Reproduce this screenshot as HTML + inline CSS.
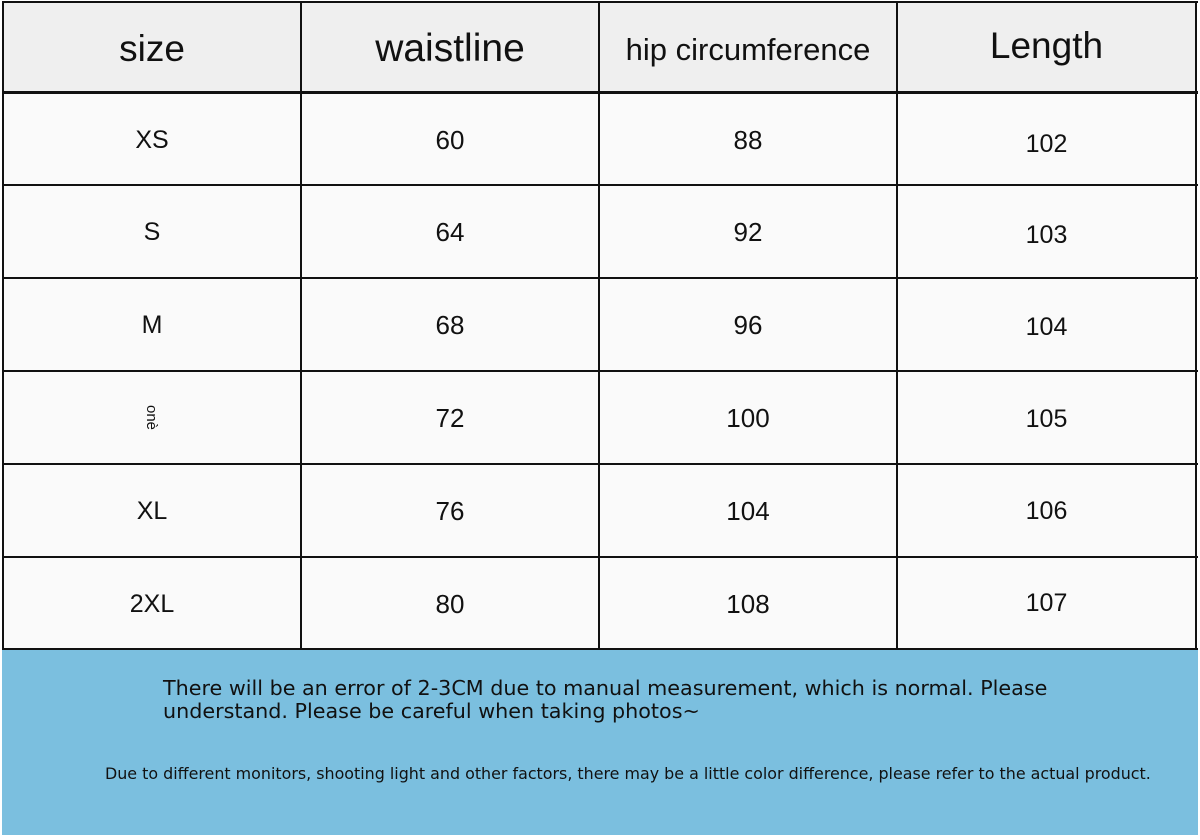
<!DOCTYPE html>
<html><head><style>
body{margin:0;width:1200px;height:840px;background:#fff;position:relative;overflow:hidden;font-family:"Liberation Sans","DejaVu Sans",sans-serif}
.c{position:absolute;display:flex;align-items:center;justify-content:center;color:#111;box-sizing:border-box}
.h{background:#efefef}
.b{background:#fafafa;font-size:26px}
.vl{position:absolute;background:#111;width:2px}
.hl{position:absolute;background:#111;height:2px;left:2px;width:1196px}
</style></head><body>
<div class="c h" style="left:3px;top:2px;width:1194px;height:90px"></div>
<div class="c" style="left:3px;top:4px;width:298px;height:90px;font-size:37px">size</div>
<div class="c" style="left:301px;top:4px;width:298px;height:90px;font-size:39px">waistline</div>
<div class="c" style="left:599px;top:2px;width:298px;height:96px;font-size:31px">hip circumference</div>
<div class="c" style="left:897px;top:0px;width:299px;height:92px;font-size:37px">Length</div>
<div class="c b" style="left:3px;top:93px;width:1194px;height:556px"></div>

<div class="c" style="left:3px;top:94px;width:298px;height:92px;font-size:25px">XS</div>
<div class="c" style="left:3px;top:186px;width:298px;height:93px;font-size:25px">S</div>
<div class="c" style="left:3px;top:279px;width:298px;height:93px;font-size:25px">M</div>
<div class="c" style="left:3px;top:371px;width:298px;height:93px;font-size:15px"><span style="transform:rotate(90deg);display:inline-block">onè</span></div>
<div class="c" style="left:3px;top:465px;width:298px;height:93px;font-size:25px">XL</div>
<div class="c" style="left:3px;top:558px;width:298px;height:92px;font-size:25px">2XL</div>

<div class="c" style="left:301px;top:94px;width:298px;height:92px;font-size:26px">60</div>
<div class="c" style="left:301px;top:186px;width:298px;height:93px;font-size:26px">64</div>
<div class="c" style="left:301px;top:279px;width:298px;height:93px;font-size:26px">68</div>
<div class="c" style="left:301px;top:372px;width:298px;height:93px;font-size:26px">72</div>
<div class="c" style="left:301px;top:465px;width:298px;height:93px;font-size:26px">76</div>
<div class="c" style="left:301px;top:558px;width:298px;height:92px;font-size:26px">80</div>

<div class="c" style="left:599px;top:94px;width:298px;height:92px;font-size:26px">88</div>
<div class="c" style="left:599px;top:186px;width:298px;height:93px;font-size:26px">92</div>
<div class="c" style="left:599px;top:279px;width:298px;height:93px;font-size:26px">96</div>
<div class="c" style="left:599px;top:372px;width:298px;height:93px;font-size:26px">100</div>
<div class="c" style="left:599px;top:465px;width:298px;height:93px;font-size:26px">104</div>
<div class="c" style="left:599px;top:558px;width:298px;height:92px;font-size:26px">108</div>

<div class="c" style="left:897px;top:98px;width:299px;height:92px;font-size:25px">102</div>
<div class="c" style="left:897px;top:189px;width:299px;height:93px;font-size:25px">103</div>
<div class="c" style="left:897px;top:281px;width:299px;height:93px;font-size:25px">104</div>
<div class="c" style="left:897px;top:373px;width:299px;height:93px;font-size:25px">105</div>
<div class="c" style="left:897px;top:465px;width:299px;height:93px;font-size:25px">106</div>
<div class="c" style="left:897px;top:557px;width:299px;height:92px;font-size:25px">107</div>

<div class="hl" style="top:1px"></div>
<div class="hl" style="top:91px;height:3px"></div>
<div class="hl" style="top:184px"></div>
<div class="hl" style="top:277px"></div>
<div class="hl" style="top:370px"></div>
<div class="hl" style="top:463px"></div>
<div class="hl" style="top:556px"></div>
<div class="hl" style="top:648px"></div>
<div class="vl" style="left:2px;top:1px;height:649px"></div>
<div class="vl" style="left:300px;top:1px;height:649px"></div>
<div class="vl" style="left:598px;top:1px;height:649px"></div>
<div class="vl" style="left:896px;top:1px;height:649px"></div>
<div class="vl" style="left:1195px;top:1px;height:649px"></div>

<div style="position:absolute;left:2px;top:650px;width:1196px;height:185px;background:#7bbfdf"></div>
<div style="position:absolute;left:163px;top:677px;width:900px;line-height:23px;color:#111;font-family:'DejaVu Sans',sans-serif;font-size:20.7px">There will be an error of 2-3CM due to manual measurement, which is normal. Please<br>understand. Please be careful when taking photos~</div>
<div style="position:absolute;left:105px;top:764px;white-space:nowrap;font-family:'DejaVu Sans',sans-serif;font-size:15.9px;color:#111">Due to different monitors, shooting light and other factors, there may be a little color difference, please refer to the actual product.</div>
</body></html>
